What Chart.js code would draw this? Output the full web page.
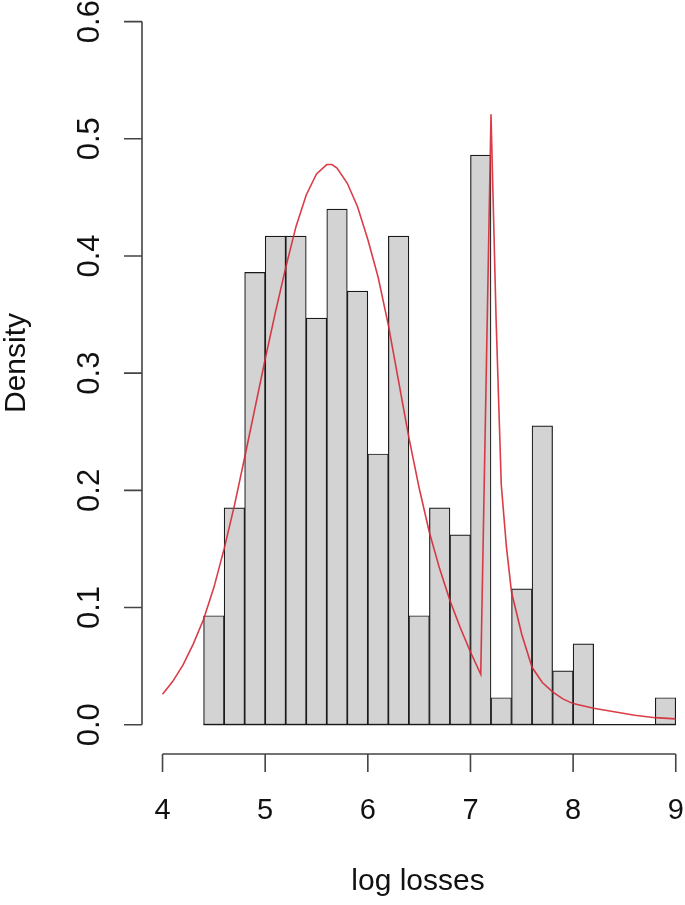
<!DOCTYPE html>
<html>
<head>
<meta charset="utf-8">
<script src="https://cdn.jsdelivr.net/npm/chart.js@4.4.1/dist/chart.umd.min.js"></script>
<style>
  html, body { margin: 0; padding: 0; background: #fff; }
  #wrap { width: 685px; height: 905px; }
</style>
</head>
<body>
<div id="wrap"><canvas id="histChart" width="685" height="905"></canvas></div>
<script>
// histogram breaks (log losses) and bar densities
const histBreaks = [4.4, 4.6, 4.8, 5.0, 5.2, 5.4, 5.6, 5.8, 6.0, 6.2, 6.4, 6.6, 6.8,
                    7.0, 7.2, 7.4, 7.6, 7.8, 8.0, 8.2, 8.4, 8.6, 8.8, 9.0];
const histDensity = [0.093, 0.185, 0.386, 0.417, 0.417, 0.347, 0.440, 0.370, 0.231, 0.417, 0.093,
                     0.185, 0.162, 0.486, 0.023, 0.116, 0.255, 0.046, 0.069, 0, 0, 0, 0.023];

// fitted density curve (red line), drawn as a polyline like R's lines()
const curveX = [4.0, 4.1, 4.2, 4.3, 4.4, 4.5, 4.6, 4.7, 4.8, 4.9, 5.0, 5.1, 5.2, 5.3, 5.4, 5.5,
                5.6, 5.65, 5.7, 5.8, 5.9, 6.0, 6.1, 6.2, 6.3, 6.4, 6.5, 6.6, 6.7, 6.8, 6.9, 7.0,
                7.1, 7.2, 7.25, 7.3, 7.35, 7.4, 7.5, 7.6, 7.7, 7.8, 7.9, 8.0, 8.2, 8.4, 8.6, 8.8, 9.0];
const curveY = [0.026, 0.037, 0.051, 0.069, 0.090, 0.117, 0.150, 0.187, 0.228, 0.270, 0.312, 0.352,
                0.390, 0.425, 0.452, 0.470, 0.478, 0.478, 0.475, 0.462, 0.442, 0.414, 0.382, 0.341,
                0.293, 0.245, 0.202, 0.164, 0.133, 0.106, 0.083, 0.062, 0.043, 0.521, 0.345, 0.205,
                0.152, 0.113, 0.077, 0.049, 0.036, 0.028, 0.022, 0.018, 0.014, 0.011, 0.008, 0.006, 0.005];

// axes
const xTicks = [4, 5, 6, 7, 8, 9];
const yTicks = [0, 0.1, 0.2, 0.3, 0.4, 0.5, 0.6];
const yTickLabels = ['0.0', '0.1', '0.2', '0.3', '0.4', '0.5', '0.6'];
const xTitle = 'log losses';
const yTitle = 'Density';

const FONT = '"Liberation Sans", Arial, Helvetica, sans-serif';

const barData = histDensity.map((d, i) => ({ x: (histBreaks[i] + histBreaks[i + 1]) / 2, y: d }));
const lineData = curveX.map((x, i) => ({ x: x, y: curveY[i] }));

// R style axes: detached lines, outward ticks, rotated y labels
const rAxes = {
  id: 'rAxes',
  afterDatasetsDraw(chart) {
    const { ctx, scales: { x, y } } = chart;
    // baseline under the histogram (zero bins too)
    ctx.save();
    ctx.strokeStyle = '#1a1a1a';
    ctx.lineWidth = 1.3;
    ctx.beginPath();
    ctx.moveTo(x.getPixelForValue(histBreaks[0]), y.getPixelForValue(0));
    ctx.lineTo(x.getPixelForValue(histBreaks[histBreaks.length - 1]), y.getPixelForValue(0));
    ctx.stroke();
    ctx.restore();
  },
  afterDraw(chart) {
    const { ctx, chartArea, scales: { x, y } } = chart;
    const tick = 18;
    ctx.save();
    ctx.strokeStyle = '#444';
    ctx.lineWidth = 1.6;
    ctx.fillStyle = '#111';

    // y axis
    const ax = chartArea.left;
    ctx.beginPath();
    ctx.moveTo(ax, y.getPixelForValue(yTicks[0]));
    ctx.lineTo(ax, y.getPixelForValue(yTicks[yTicks.length - 1]));
    yTicks.forEach(v => {
      const py = y.getPixelForValue(v);
      ctx.moveTo(ax, py);
      ctx.lineTo(ax - tick, py);
    });
    ctx.stroke();
    ctx.font = '31px ' + FONT;
    ctx.textAlign = 'center';
    ctx.textBaseline = 'middle';
    yTicks.forEach((v, i) => {
      ctx.save();
      ctx.translate(ax - 52, y.getPixelForValue(v));
      ctx.rotate(-Math.PI / 2);
      ctx.fillText(yTickLabels[i], 0, 0);
      ctx.restore();
    });

    // x axis
    const ay = chartArea.bottom;
    ctx.beginPath();
    ctx.moveTo(x.getPixelForValue(xTicks[0]), ay);
    ctx.lineTo(x.getPixelForValue(xTicks[xTicks.length - 1]), ay);
    xTicks.forEach(v => {
      const px = x.getPixelForValue(v);
      ctx.moveTo(px, ay);
      ctx.lineTo(px, ay + tick);
    });
    ctx.stroke();
    ctx.font = '29px ' + FONT;
    xTicks.forEach(v => {
      ctx.fillText(String(v), x.getPixelForValue(v), ay + 57);
    });

    // titles
    ctx.font = '30px ' + FONT;
    ctx.fillText(xTitle, 418, 882);
    ctx.save();
    ctx.translate(17, 363);
    ctx.rotate(-Math.PI / 2);
    ctx.fillText(yTitle, 0, 0);
    ctx.restore();
    ctx.restore();
  }
};

new Chart(document.getElementById('histChart'), {
  type: 'bar',
  data: {
    datasets: [
      {
        type: 'line',
        data: lineData,
        borderColor: 'rgba(214, 40, 52, 0.9)',
        borderWidth: 1.6,
        pointRadius: 0,
        fill: false,
        tension: 0,
        order: 0
      },
      {
        type: 'bar',
        data: barData,
        backgroundColor: '#d3d3d3',
        borderColor: '#1a1a1a',
        borderWidth: 1.2,
        borderSkipped: false,
        barPercentage: 1,
        categoryPercentage: 1,
        order: 1
      }
    ]
  },
  options: {
    responsive: false,
    animation: false,
    devicePixelRatio: 1,
    layout: { padding: { left: 142, right: 0, top: 4, bottom: 151 } },
    plugins: { legend: { display: false }, tooltip: { enabled: false } },
    scales: {
      x: {
        type: 'linear', min: 3.8, max: 9.09, display: false, offset: false,
        afterBuildTicks: s => { s.ticks = xTicks.map(v => ({ value: v })); }
      },
      y: {
        min: -0.025, max: 0.615, display: false,
        afterBuildTicks: s => { s.ticks = yTicks.map(v => ({ value: v })); }
      }
    }
  },
  plugins: [rAxes]
});
</script>
</body>
</html>
